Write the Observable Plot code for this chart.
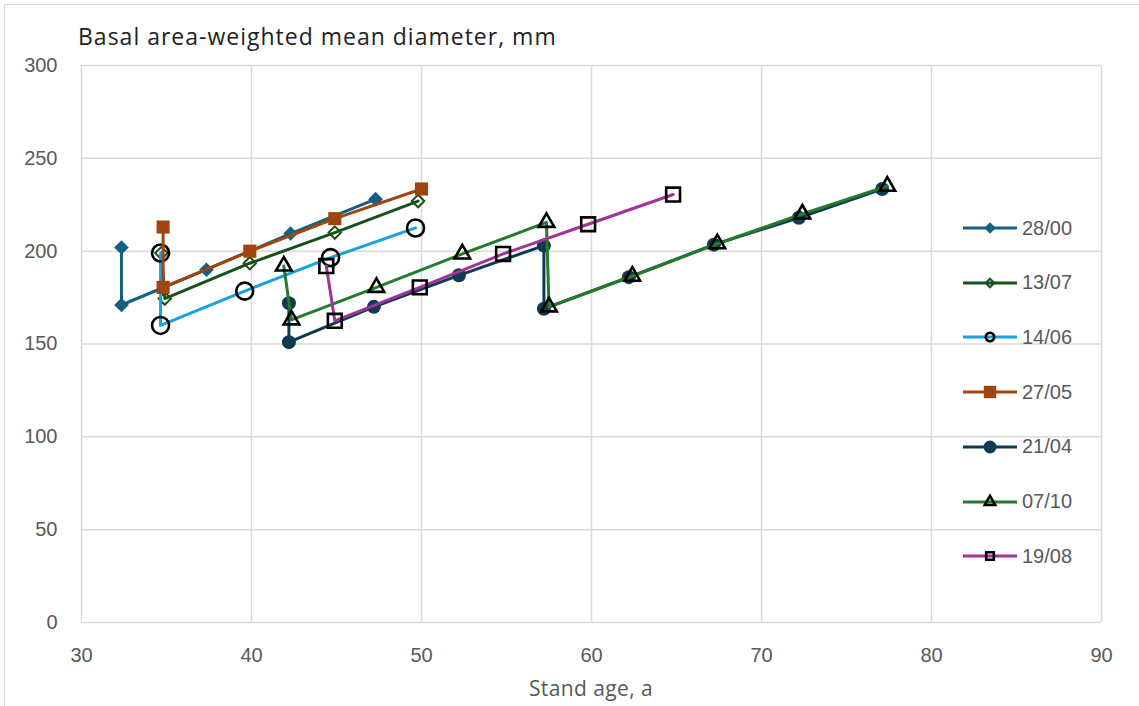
<!DOCTYPE html>
<html><head><meta charset="utf-8">
<script src="https://cdn.jsdelivr.net/npm/d3@7"></script>
<script src="https://cdn.jsdelivr.net/npm/@observablehq/plot@0.6"></script>
<style>
html,body{margin:0;padding:0;background:#fff;overflow:hidden;}
#wrap{position:relative;width:1139px;height:706px;overflow:hidden;background:#fff;}
#frame{position:absolute;left:4px;top:4px;width:1300px;height:900px;border:1.5px solid #d9d9d9;box-sizing:border-box;}
#chart{position:absolute;left:0;top:0;}
#title{position:absolute;left:78px;top:20px;font-family:"Open Sans","Noto Sans",sans-serif;font-size:23px;letter-spacing:1px;color:#222;white-space:nowrap;}
#xlabel{position:absolute;left:0;width:1182px;text-align:center;top:674px;font-family:"Open Sans","Noto Sans",sans-serif;font-size:21px;letter-spacing:0.4px;color:#595959;}
.leg{position:absolute;left:963px;height:30px;display:flex;align-items:center;font-family:"Liberation Sans",Arial,sans-serif;font-size:20px;color:#595959;}
.leg span{margin-left:5px;}
</style>
</head><body>
<div id="wrap">
  <div id="frame"></div>
  <div id="chart"></div>
  <div id="title">Basal area-weighted mean diameter, mm</div>
  <div id="xlabel">Stand age, a</div>
</div>
<script>
// ---- Data ----
const seriesNames = ["28/00", "13/07", "14/06", "27/05", "21/04", "07/10", "19/08"];
const ageTicks = [30, 40, 50, 60, 70, 80, 90];
const diaTicks = [0, 50, 100, 150, 200, 250, 300];

const age_2800 = [32.35, 32.35, 37.35, 42.3, 47.3];
const dia_2800 = [202, 171, 190, 209.5, 228];

const age_1307 = [34.7, 34.9, 39.9, 44.9, 49.8];
const dia_1307 = [199, 174.5, 193.5, 210, 227];

const age_1406 = [34.65, 34.65, 39.6, 44.65, 49.65];
const dia_1406 = [199, 160, 178.5, 196.5, 212.5];

const age_2705 = [34.8, 34.8, 39.9, 44.9, 50.0];
const dia_2705 = [213, 180.5, 200, 217.5, 233.5];

const age_2104 = [42.2, 42.2, 47.2, 52.2, 57.2, 57.2, 62.2, 67.2, 72.2, 77.1];
const dia_2104 = [172, 151, 170, 187, 203, 169, 186, 203.5, 218, 233.5];

const age_0710 = [41.9, 42.35, 47.35, 52.4, 57.35, 57.5, 62.4, 67.4, 72.4, 77.4];
const dia_0710 = [192, 163, 180.5, 198.5, 215.5, 170, 186.5, 204, 220, 235];

const age_1908 = [44.4, 44.9, 49.9, 54.8, 59.8, 64.8];
const dia_1908 = [192, 162.5, 180.5, 198.5, 214.5, 230.5];

const ages = [age_2800, age_1307, age_1406, age_2705, age_2104, age_0710, age_1908];
const dias = [dia_2800, dia_1307, dia_1406, dia_2705, dia_2104, dia_0710, dia_1908];

// ---- Styles ----
const lineColors = ["#156082", "#15521c", "#1ba1dc", "#a0450f", "#0f3b50", "#267a2e", "#a0329a"];
const markerStyle = [
  {symbol: "diamond2", r: 6.6, fill: "#156082", stroke: "none", sw: 0, lr: 5.2},
  {symbol: "diamond2", r: 5.6, fill: "none", stroke: "#15521c", sw: 2, lr: 3.8},
  {symbol: "circle", r: 8.5, fill: "none", stroke: "#000", sw: 2.6, lr: 4.2},
  {symbol: "square", r: 7.4, fill: "#a0450f", stroke: "none", sw: 0, lr: 7},
  {symbol: "circle", r: 7, fill: "#0f3b50", stroke: "none", sw: 0, lr: 6.5},
  {symbol: "triangle", r: 5.8, fill: "none", stroke: "#000", sw: 2.6, lr: 3.9},
  {symbol: "square", r: 7.8, fill: "none", stroke: "#000", sw: 2.6, lr: 4.3}
];

const rows = seriesNames.map((name, i) => ages[i].map((a, j) => ({series: name, age: a, dia: dias[i][j]})));

const marks = [
  Plot.gridX(ageTicks, {stroke: "#d9d9d9", strokeOpacity: 1, strokeWidth: 1.5}),
  Plot.gridY(diaTicks, {stroke: "#d9d9d9", strokeOpacity: 1, strokeWidth: 1.5}),
  Plot.axisX(ageTicks, {tickSize: 0, tickPadding: 25, fontSize: 20, fill: "#595959", label: null}),
  Plot.axisY(diaTicks, {tickSize: 0, tickPadding: 24, fontSize: 20, fill: "#595959", label: null})
];
rows.forEach((data, i) => {
  const m = markerStyle[i];
  marks.push(Plot.line(data, {x: "age", y: "dia", stroke: lineColors[i], strokeWidth: 3}));
  marks.push(Plot.dot(data, {x: "age", y: "dia", symbol: m.symbol, r: m.r, fill: m.fill, stroke: m.stroke, strokeWidth: m.sw}));
});

const chart = Plot.plot({
  width: 1139, height: 706,
  marginLeft: 81, marginRight: 38, marginTop: 65, marginBottom: 84,
  x: {domain: [30, 90]},
  y: {domain: [0, 300]},
  style: {fontFamily: "'Liberation Sans', Arial, sans-serif", fontSize: "20px", color: "#595959", background: "transparent"},
  marks
});
document.getElementById("chart").appendChild(chart);

// ---- Legend ----
const symMap = {diamond2: d3.symbolDiamond2, circle: d3.symbolCircle, square: d3.symbolSquare, triangle: d3.symbolTriangle};
const wrap = document.getElementById("wrap");
seriesNames.forEach((name, i) => {
  const m = markerStyle[i];
  const div = document.createElement("div");
  div.className = "leg";
  div.style.top = (228 - 15 + i * 54.7) + "px";
  const path = d3.symbol(symMap[m.symbol], Math.PI * m.lr * m.lr)();
  div.innerHTML = `<svg width="54" height="30" style="overflow:visible">
    <line x1="0" x2="54" y1="15" y2="15" stroke="${lineColors[i]}" stroke-width="3"/>
    <path d="${path}" transform="translate(27,15)" fill="${m.fill}" stroke="${m.stroke}" stroke-width="${m.sw}"/>
  </svg><span>${name}</span>`;
  wrap.appendChild(div);
});
</script>
</body></html>
